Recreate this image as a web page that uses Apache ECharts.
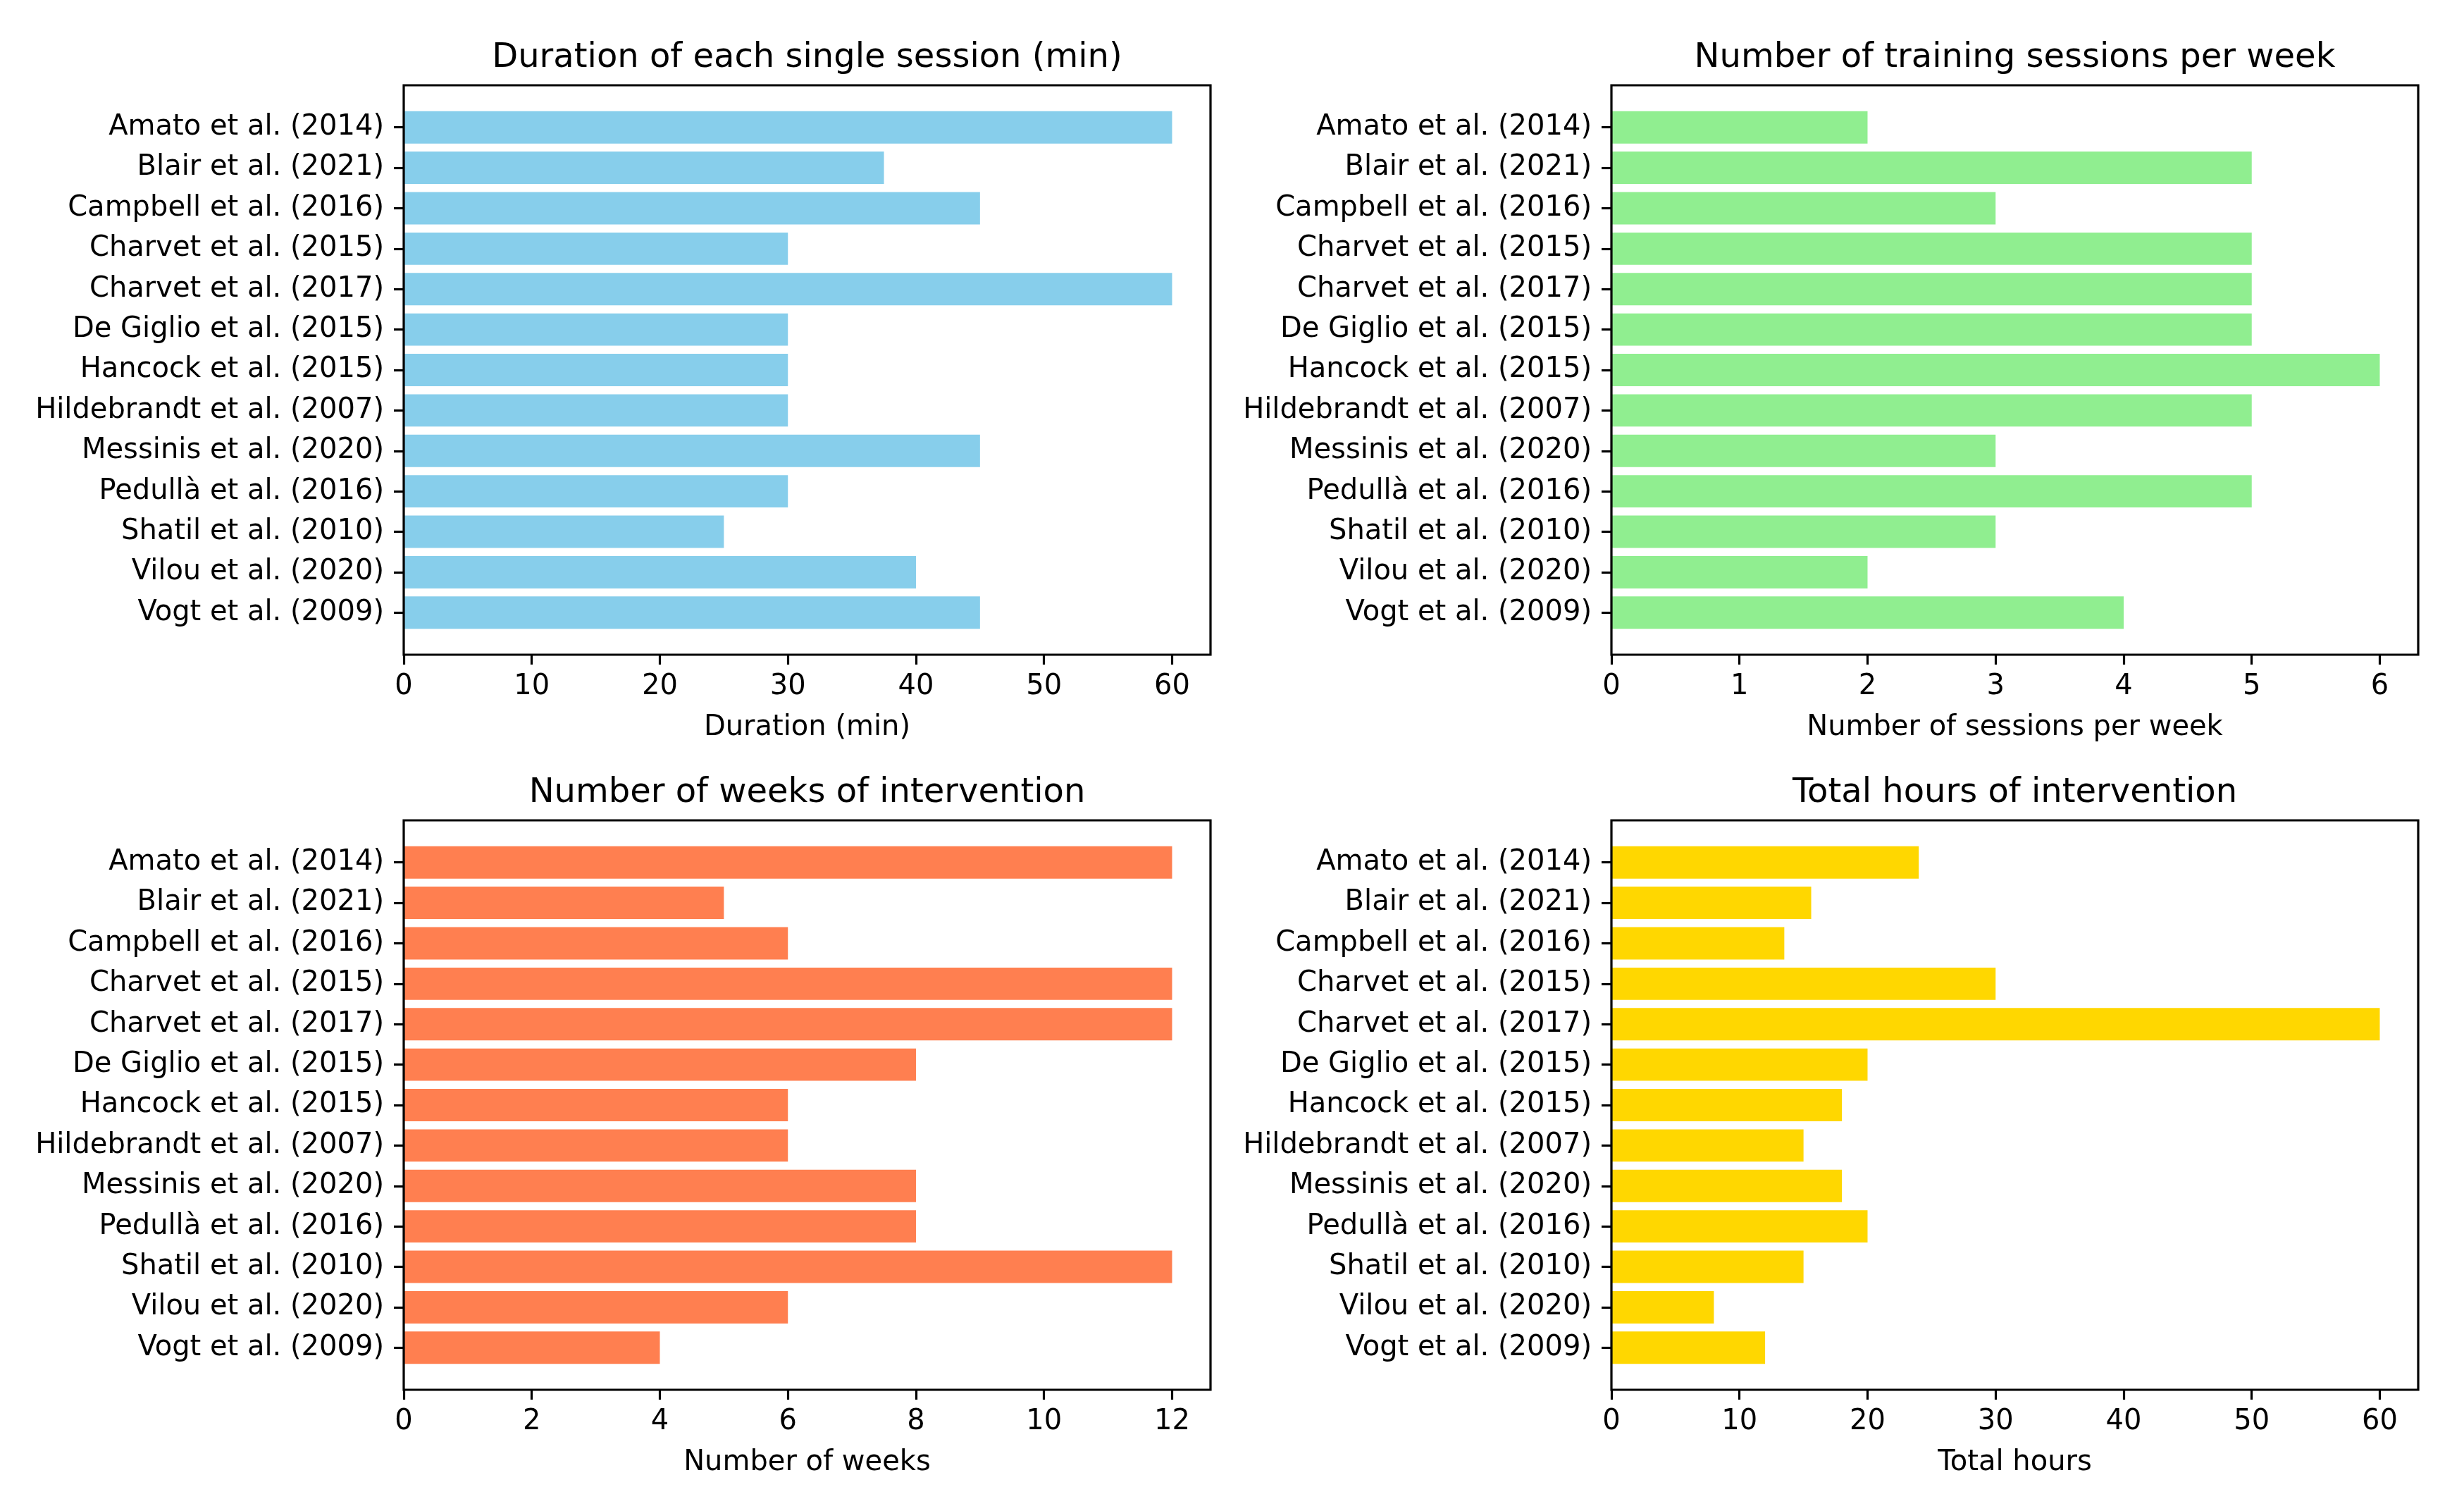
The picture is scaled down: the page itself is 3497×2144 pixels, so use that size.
<!DOCTYPE html>
<html>
<head>
<meta charset="utf-8">
<script src="https://cdn.jsdelivr.net/npm/echarts@6/dist/echarts.min.js"></script>
<style>
  html, body { margin: 0; padding: 0; background: #fff; }
  #chart { width: 3497px; height: 2144px; }
</style>
</head>
<body>
<div id="chart"></div>
<script>
// ---------------- data ----------------
const categories = [
  'Amato et al. (2014)', 'Blair et al. (2021)', 'Campbell et al. (2016)',
  'Charvet et al. (2015)', 'Charvet et al. (2017)', 'De Giglio et al. (2015)',
  'Hancock et al. (2015)', 'Hildebrandt et al. (2007)', 'Messinis et al. (2020)',
  'Pedullà et al. (2016)', 'Shatil et al. (2010)', 'Vilou et al. (2020)',
  'Vogt et al. (2009)'
];
const durationMin     = [60, 37.5, 45, 30, 60, 30, 30, 30, 45, 30, 25, 40, 45];
const sessionsPerWeek = [2, 5, 3, 5, 5, 5, 6, 5, 3, 5, 3, 2, 4];
const weeksOfIntervention = [12, 5, 6, 12, 12, 8, 6, 6, 8, 8, 12, 6, 4];
const totalHours      = [24, 15.6, 13.5, 30, 60, 20, 18, 15, 18, 20, 15, 8, 12];

const durationTicks = [0, 10, 20, 30, 40, 50, 60];
const sessionsTicks = [0, 1, 2, 3, 4, 5, 6];
const weeksTicks    = [0, 2, 4, 6, 8, 10, 12];
const hoursTicks    = [0, 10, 20, 30, 40, 50, 60];

const panelTitles = [
  'Duration of each single session (min)',
  'Number of training sessions per week',
  'Number of weeks of intervention',
  'Total hours of intervention'
];
const axisNames = ['Duration (min)', 'Number of sessions per week', 'Number of weeks', 'Total hours'];
const axisMax = [63, 6.3, 12.6, 63];

// ---------------- layout / style ----------------
const FONT = 'DejaVu Sans';
const colors = ['#87CEEB', '#90EE90', '#FF7F50', '#FFD700'];
const panelLeft = [573, 2287, 573, 2287];
const panelTop = [121, 121, 1164, 1164];
const panelW = 1145, panelH = 808;
const nCat = categories.length;
const span = (nCat - 1) + 0.8;          // extent covered by bars
const margin = 0.05 * span;
const totalUnits = span + 2 * margin;
const unit = panelH / totalUnits;
const innerOffsetPx = (margin - 0.1) * unit;
const innerH = nCat * unit;

const seriesData = [durationMin, sessionsPerWeek, weeksOfIntervention, totalHours];
const tickSets = [durationTicks, sessionsTicks, weeksTicks, hoursTicks];

const grid = [], xAxis = [], yAxis = [], series = [], title = [];
for (let p = 0; p < 4; p++) {
  // frame grid
  grid.push({
    left: panelLeft[p], top: panelTop[p], width: panelW, height: panelH,
    show: true, z: 10, backgroundColor: 'transparent',
    borderColor: '#000', borderWidth: 3.2, containLabel: false
  });
  // bars grid
  grid.push({
    left: panelLeft[p], top: panelTop[p] + innerOffsetPx, width: panelW, height: innerH,
    show: false, containLabel: false
  });
  xAxis.push({
    type: 'value', gridIndex: 2 * p, min: 0, max: axisMax[p],
    axisLine: { show: false },
    splitLine: { show: false },
    axisTick: { show: true, length: 14, lineStyle: { color: '#000', width: 3.2 }, customValues: tickSets[p] },
    axisLabel: { show: true, margin: 26, color: '#000', fontSize: 40, fontFamily: FONT, customValues: tickSets[p] },
    name: axisNames[p], nameLocation: 'middle', nameGap: 84,
    nameTextStyle: { color: '#000', fontSize: 40, fontFamily: FONT },
    z: 10
  });
  xAxis.push({
    type: 'value', gridIndex: 2 * p + 1, min: 0, max: axisMax[p], show: false
  });
  yAxis.push({ type: 'value', gridIndex: 2 * p, min: 0, max: 1, show: false });
  yAxis.push({
    type: 'category', gridIndex: 2 * p + 1, data: categories, inverse: true,
    axisLine: { show: false },
    axisTick: { show: true, alignWithLabel: true, length: 14, lineStyle: { color: '#000', width: 3.2 } },
    axisLabel: { show: true, interval: 0, margin: 28, color: '#000', fontSize: 40, fontFamily: FONT },
    splitLine: { show: false },
    z: 10
  });
  series.push({
    type: 'bar', xAxisIndex: 2 * p + 1, yAxisIndex: 2 * p + 1,
    data: seriesData[p], barWidth: 0.8 * unit,
    itemStyle: { color: colors[p] }, silent: true
  });
  title.push({
    text: panelTitles[p], left: panelLeft[p] + panelW / 2, top: panelTop[p] - 62,
    textAlign: 'center', padding: 0,
    textStyle: { color: '#000', fontSize: 48, fontWeight: 'normal', fontFamily: FONT }
  });
}

const chart = echarts.init(document.getElementById('chart'), null, { renderer: 'canvas' });
chart.setOption({
  backgroundColor: '#fff',
  animation: false,
  title, grid, xAxis, yAxis, series
});
</script>
</body>
</html>
